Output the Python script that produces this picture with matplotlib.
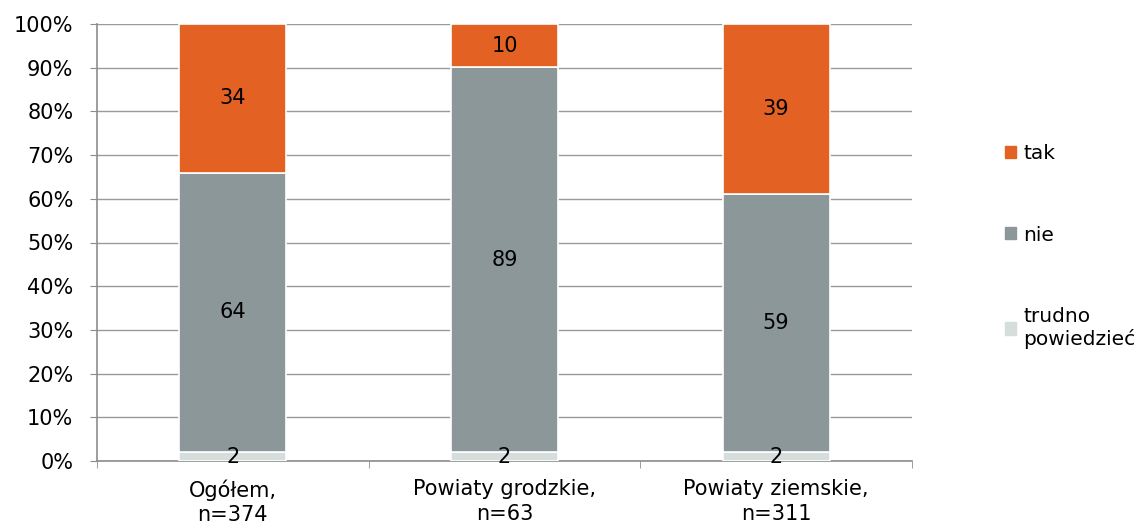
import numpy as np
import matplotlib
matplotlib.use("Agg")
import matplotlib.pyplot as plt
from matplotlib.patches import Patch

categories = ["Ogółem,\nn=374", "Powiaty grodzkie,\nn=63", "Powiaty ziemskie,\nn=311"]
trudno = [2, 2, 2]
nie = [64, 89, 59]
tak = [34, 10, 39]

series = [("trudno\npowiedzieć", trudno, "#D6DEDC"),
          ("nie", nie, "#8C979A"),
          ("tak", tak, "#E36223")]

plt.rcParams['font.family'] = ['DejaVu Sans']
plt.rcParams['font.size'] = 15

fig = plt.figure(figsize=(11.46, 5.30), dpi=100)
ax = fig.add_axes([97/1146, 1 - 461/530, 815/1146, 437/530])

totals = np.array(trudno) + np.array(nie) + np.array(tak)
x = np.arange(len(categories))
bottom = np.zeros(len(categories))
for name, vals, col in series:
    share = np.array(vals) / totals * 100
    ax.bar(x, share, 0.395, bottom=bottom, color=col, edgecolor="white",
           linewidth=1.2, zorder=3, label=name)
    for xi, b, s, v in zip(x, bottom, share, vals):
        ax.text(xi, b + s / 2, str(v), ha="center", va="center", fontsize=15,
                color="black", zorder=4)
    bottom += share

ax.set_xlim(-0.5, 2.5)
ax.set_ylim(0, 100)
ax.set_yticks(np.arange(0, 101, 10))
ax.set_yticklabels([f"{v}%" for v in range(0, 101, 10)])
ax.yaxis.grid(True, color="#999999", linewidth=1)
ax.set_axisbelow(True)

ax.set_xticks(x)
ax.set_xticklabels(categories, linespacing=1.3)
ax.set_xticks([-0.5, 0.5, 1.5, 2.5], minor=True)
ax.tick_params(axis="x", which="major", length=0, pad=13)
ax.tick_params(axis="x", which="minor", length=5, color="#8C8C8C")
ax.tick_params(axis="y", length=5, color="#8C8C8C", pad=12)

for s in ["top", "right"]:
    ax.spines[s].set_visible(False)
for s in ["left", "bottom"]:
    ax.spines[s].set_color("#8C8C8C")
    ax.spines[s].set_linewidth(1.2)

handles = [Patch(color=c, label=n) for n, _, c in series][::-1]
fig.legend(handles=handles, loc="upper left", bbox_to_anchor=(987/1146, 1 - 126/530),
           frameon=False, handlelength=0.55, handleheight=0.55, handletextpad=0.35,
           labelspacing=3.1, fontsize=14.5)

fig.savefig("out.png", dpi=100)
